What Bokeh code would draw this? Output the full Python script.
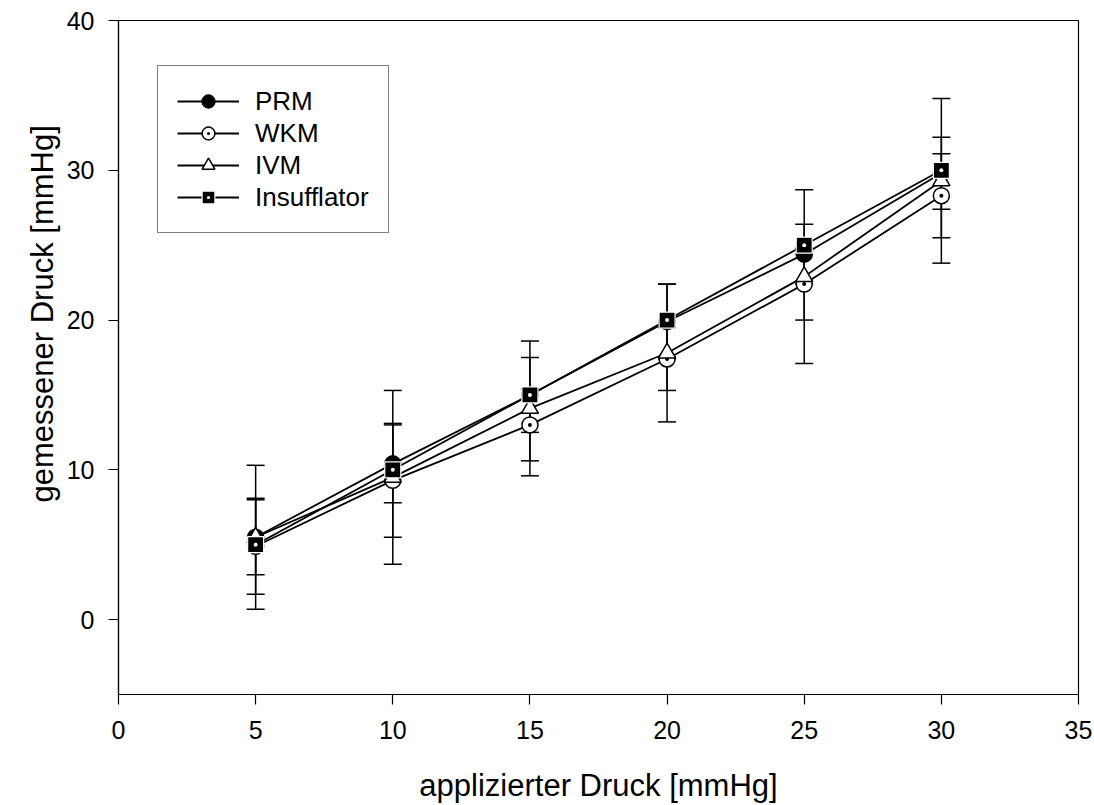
from bokeh.plotting import figure
from bokeh.models import (ColumnDataSource, Range1d, FixedTicker, Whisker, TeeHead,
                          Legend, LegendItem, Title)
from bokeh.embed import file_html
from bokeh.resources import INLINE

# ---- data ----
applied = [5, 10, 15, 20, 25, 30]
prm = [5.5, 10.4, 15.0, 19.9, 24.4, 29.8]
prm_sd = [2.5, 2.6, 2.5, 2.5, 2.0, 2.4]
wkm = [4.9, 9.3, 13.0, 17.4, 22.4, 28.3]
wkm_sd = [3.2, 3.8, 2.4, 2.1, 2.4, 2.8]
ivm = [5.5, 9.5, 14.1, 17.8, 22.9, 29.3]
ivm_sd = [4.8, 5.8, 4.5, 4.6, 5.8, 5.5]
insufflator = [5, 10, 15, 20, 25, 30]

x_ticks = [0, 5, 10, 15, 20, 25, 30, 35]
y_ticks = [0, 10, 20, 30, 40]

FONT = "Liberation Sans"

p = figure(width=1094, height=805, output_backend="svg", toolbar_location=None,
           x_range=Range1d(0, 35), y_range=Range1d(-5, 40),
           min_border_left=118, min_border_right=16, min_border_top=20,
           min_border_bottom=111)
p.grid.visible = False
p.outline_line_color = "black"
p.outline_line_width = 1.2
p.background_fill_color = "white"
p.border_fill_color = "white"

for ax in (p.xaxis[0], p.yaxis[0]):
    ax.major_label_text_font = FONT
    ax.major_label_text_font_size = "25px"
    ax.major_label_text_color = "black"
    ax.axis_label_text_font = FONT
    ax.axis_label_text_font_size = "31px"
    ax.axis_label_text_font_style = "normal"
    ax.axis_label_text_color = "black"
    ax.axis_line_color = "black"
    ax.axis_line_width = 1.2
    ax.major_tick_line_color = "black"
    ax.major_tick_line_width = 1.2
    ax.major_tick_out = 10
    ax.major_tick_in = 0
    ax.minor_tick_line_color = None

p.xaxis.ticker = FixedTicker(ticks=x_ticks)
p.yaxis.ticker = FixedTicker(ticks=y_ticks)
p.xaxis.axis_label = "applizierter Druck [mmHg]"
p.xaxis.major_label_standoff = 16
p.yaxis.major_label_standoff = 14
p.xaxis.axis_label_standoff = 26

# y-axis title, positioned like the original (centred on the 0..40 span)
ytitle = Title(text="gemessener Druck [mmHg]", align="left", offset=192,
               text_font=FONT, text_font_size="31px", text_font_style="normal",
               text_color="black", standoff=8)
p.add_layout(ytitle, "left")

LW = 1.8

def add_series(y, sd, marker, fill, size, line_color="black", lw=1.5):
    src = ColumnDataSource(dict(x=applied, y=y))
    ln = p.line("x", "y", source=src, line_color="black", line_width=LW)
    if sd is not None:
        src.data["upper"] = [a + b for a, b in zip(y, sd)]
        src.data["lower"] = [a - b for a, b in zip(y, sd)]
        w = Whisker(base="x", upper="upper", lower="lower", source=src,
                    line_color="black", line_width=1.5,
                    upper_head=TeeHead(size=18, line_color="black", line_width=1.5),
                    lower_head=TeeHead(size=18, line_color="black", line_width=1.5))
        p.add_layout(w)
    sc = p.scatter("x", "y", source=src, marker=marker, size=size,
                   fill_color=fill, line_color=line_color, line_width=lw)
    return [ln, sc]

r_prm = add_series(prm, prm_sd, "circle", "black", 16)
r_wkm = add_series(wkm, wkm_sd, "circle_dot", "white", 16)
r_ivm = add_series(ivm, ivm_sd, "triangle", "white", 17)
r_ins = add_series(insufflator, None, "square_dot", "black", 16,
                   line_color="white", lw=1.2)

legend = Legend(items=[
    LegendItem(label="PRM", renderers=r_prm),
    LegendItem(label="WKM", renderers=r_wkm),
    LegendItem(label="IVM", renderers=r_ivm),
    LegendItem(label="Insufflator", renderers=r_ins),
], location=(39, 461))
legend.label_text_font = FONT
legend.label_text_font_size = "26px"
legend.label_text_color = "black"
legend.glyph_width = 62
legend.glyph_height = 32
legend.label_height = 32
legend.spacing = 0
legend.padding = 19
legend.margin = 0
legend.label_standoff = 16
legend.border_line_color = "black"
legend.border_line_width = 1.2
legend.background_fill_alpha = 1.0
p.add_layout(legend, "center")

open("out.html", "w").write(file_html(p, INLINE))
